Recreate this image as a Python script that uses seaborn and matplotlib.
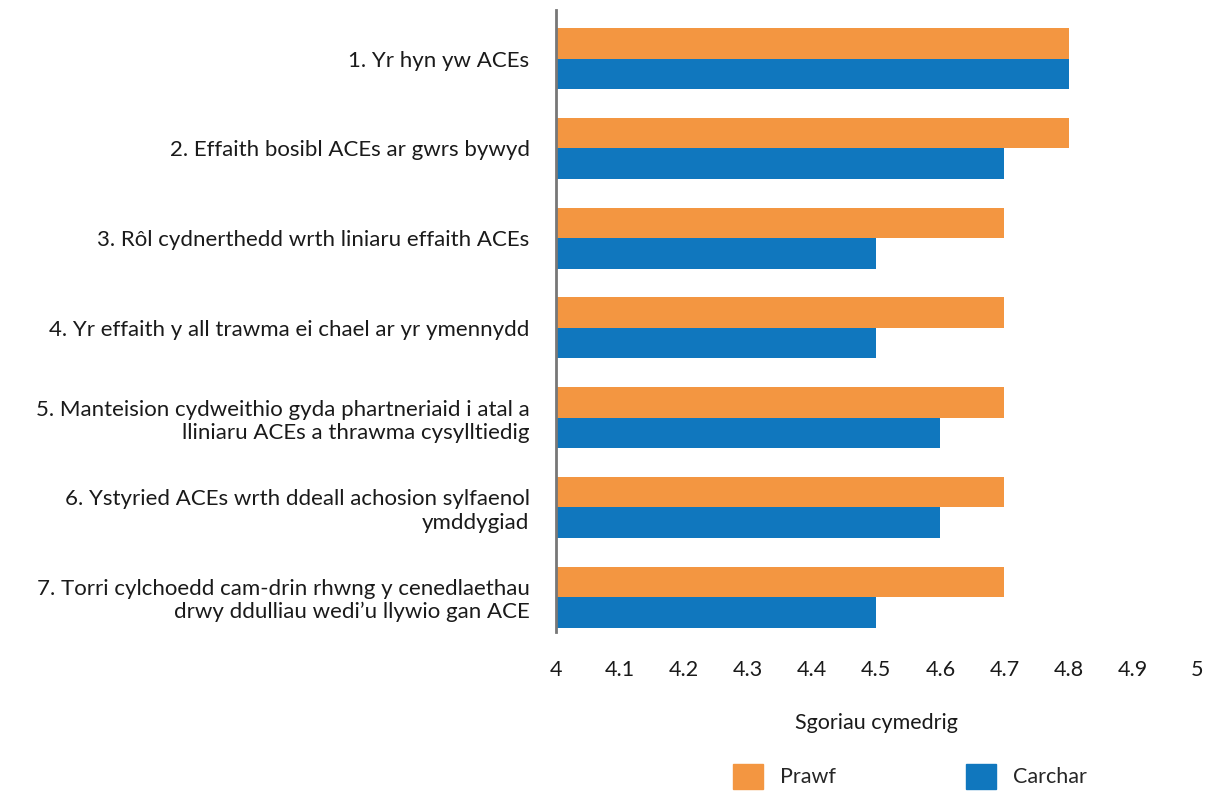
import pandas as pd
import seaborn as sns
import matplotlib.pyplot as plt

items = [
    "1. Yr hyn yw ACEs",
    "2. Effaith bosibl ACEs ar gwrs bywyd",
    "3. Rôl cydnerthedd wrth liniaru effaith ACEs",
    "4. Yr effaith y all trawma ei chael ar yr ymennydd",
    "5. Manteision cydweithio gyda phartneriaid i atal a\nlliniaru ACEs a thrawma cysylltiedig",
    "6. Ystyried ACEs wrth ddeall achosion sylfaenol\nymddygiad",
    "7. Torri cylchoedd cam-drin rhwng y cenedlaethau\ndrwy ddulliau wedi’u llywio gan ACE",
]
prawf = [4.8, 4.8, 4.7, 4.7, 4.7, 4.7, 4.7]
carchar = [4.8, 4.7, 4.5, 4.5, 4.6, 4.6, 4.5]
groups = ["Prawf", "Carchar"]
ticks = [4, 4.1, 4.2, 4.3, 4.4, 4.5, 4.6, 4.7, 4.8, 4.9, 5]

df = pd.DataFrame({
    "item": items * 2,
    "score": prawf + carchar,
    "group": [groups[0]] * len(items) + [groups[1]] * len(items),
})

sns.set_style("white")
plt.rcParams["font.family"] = ["Lato", "DejaVu Sans"]

fig = plt.figure(figsize=(12.1, 7.92), dpi=100)
ax = fig.add_axes([0.4595, 0.202, 0.5295, 0.785])

sns.barplot(
    data=df, y="item", x="score", hue="group", orient="h",
    palette=["#F39641", "#1077BE"], width=0.68, saturation=1,
    linewidth=0, edgecolor="none", ax=ax, legend=False,
)

ax.set_xlim(4, 5)
ax.set_ylim(6.39, -0.54)
ax.set_xticks(ticks)
ax.set_xticklabels([f"{t:g}" for t in ticks], fontsize=15.5, color="#1a1a1a")
ax.tick_params(axis="x", length=0, pad=20)
ax.tick_params(axis="y", length=0, pad=19)
for lab in ax.get_yticklabels():
    lab.set_fontsize(16)
    lab.set_color("#1a1a1a")
    lab.set_multialignment("right")
ax.set_ylabel("")
ax.set_xlabel("Sgoriau cymedrig", fontsize=15.5, color="#1a1a1a", labelpad=24)

for s in ["top", "right", "bottom"]:
    ax.spines[s].set_visible(False)
ax.spines["left"].set_color("#777777")
ax.spines["left"].set_linewidth(2)

handles = [plt.Rectangle((0, 0), 1, 1, color=c) for c in ["#F39641", "#1077BE"]]
fig.legend(
    handles, groups, loc="center", bbox_to_anchor=(0.752, 0.02), ncol=2,
    frameon=False, fontsize=15.5, handlelength=1.4, handleheight=1.4,
    handletextpad=0.8, columnspacing=6.0,
)

plt.savefig("out.png", dpi=100)
